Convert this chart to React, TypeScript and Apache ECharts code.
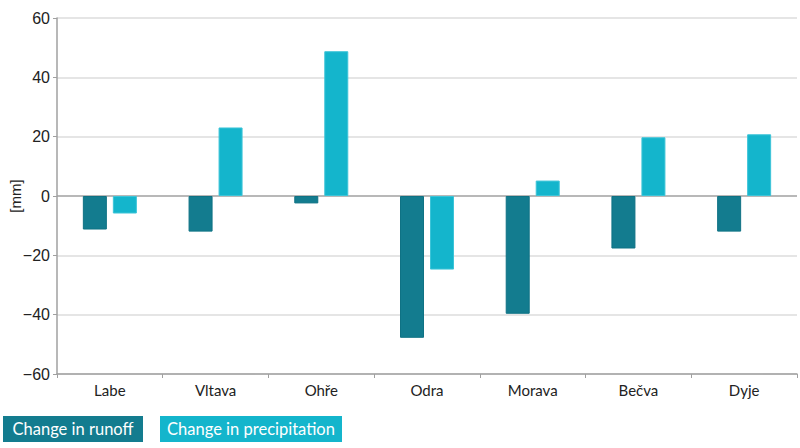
import React, { useEffect, useRef } from "react";
import * as echarts from "echarts";

const categories = ["Labe", "Vltava", "Ohře", "Odra", "Morava", "Bečva", "Dyje"];
const runoff = [-11.3, -12, -2.5, -47.8, -39.7, -17.7, -12];
const precipitation = [-5.9, 23.1, 48.8, -24.8, 5.2, 19.8, 20.8];
const seriesNames = ["Change in runoff", "Change in precipitation"];
const yTicks = { min: -60, max: 60, interval: 20 };
const yName = "[mm]";

const C_RUN = "#137c8f";
const C_PRE = "#14b5cc";

export default function App() {
  const ref = useRef<HTMLDivElement>(null);
  useEffect(() => {
    if (!ref.current) return;
    const chart = echarts.init(ref.current, undefined, { renderer: "svg" });
    const grid = { left: 57, right: 3, top: 18, bottom: 74, containLabel: false, outerBoundsMode: "none" };
    chart.setOption({
      animation: false,
      grid,
      xAxis: {
        type: "category",
        data: categories,
        boundaryGap: true,
        axisLine: { onZero: false, lineStyle: { color: "#a0a0a0", width: 1.5 } },
        axisTick: { show: true, length: 4, lineStyle: { color: "#a0a0a0" } },
        axisLabel: { color: "#222", fontSize: 15, fontFamily: "Lato", margin: 8 },
      },
      yAxis: {
        type: "value",
        min: yTicks.min,
        max: yTicks.max,
        interval: yTicks.interval,
        name: yName,
        nameLocation: "middle",
        nameRotate: 90,
        nameGap: 42,
        nameMoveOverlap: false,
        nameTextStyle: { color: "#222", fontSize: 15, fontFamily: "Liberation Sans", verticalAlign: "middle" },
        axisLine: { show: true, lineStyle: { color: "#a0a0a0", width: 1.5 } },
        axisTick: { show: true, length: 4, lineStyle: { color: "#a0a0a0" } },
        axisLabel: {
          color: "#222",
          fontSize: 16,
          fontFamily: "Liberation Sans",
          margin: 7,
          formatter: (v: number) => String(v).replace("-", "\u2212"),
        },
        splitLine: {
          show: true,
          lineStyle: {
            color: ["#dcdcdc", "#dcdcdc", "#dcdcdc", "#a0a0a0", "#dcdcdc", "#dcdcdc", "#dcdcdc"],
            width: 1.5,
          },
        },
      },
      series: [
        {
          name: seriesNames[0],
          type: "bar",
          data: runoff,
          barWidth: 24,
          barGap: "25%",
          itemStyle: { color: C_RUN, borderColor: "#0f7284", borderWidth: 1 },
        },
        {
          name: seriesNames[1],
          type: "bar",
          data: precipitation,
          barWidth: 24,
          barGap: "25%",
          itemStyle: { color: C_PRE, borderColor: "#3cc4d8", borderWidth: 1 },
        },
      ],
      graphic: [
        {
          type: "group",
          left: 3,
          top: 416,
          children: [
            { type: "rect", shape: { x: 0, y: 0, width: 140, height: 26 }, style: { fill: C_RUN } },
            {
              type: "text",
              x: 70,
              y: 13,
              style: {
                text: seriesNames[0],
                fill: "#fff",
                font: "16.5px Lato",
                align: "center",
                verticalAlign: "middle",
              },
            },
          ],
        },
        {
          type: "group",
          left: 160,
          top: 416,
          children: [
            { type: "rect", shape: { x: 0, y: 0, width: 182, height: 26 }, style: { fill: C_PRE } },
            {
              type: "text",
              x: 91,
              y: 13,
              style: {
                text: seriesNames[1],
                fill: "#fff",
                font: "16.5px Lato",
                align: "center",
                verticalAlign: "middle",
              },
            },
          ],
        },
      ],
    });
    return () => chart.dispose();
  }, []);
  return (
    <div
      ref={ref}
      style={{ position: "fixed", left: 0, top: 0, width: 800, height: 448, background: "#fff" }}
    />
  );
}
